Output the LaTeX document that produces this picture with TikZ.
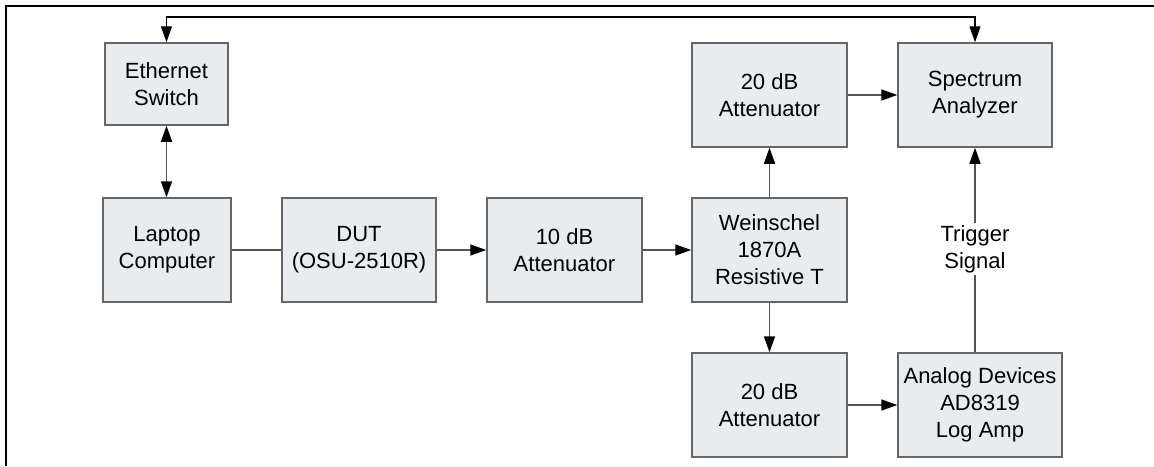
\documentclass[tikz,border=0pt]{standalone}
\usepackage{fontspec}
\setmainfont{Liberation Sans}
\usetikzlibrary{arrows.meta}
\definecolor{boxfill}{HTML}{E9ECEF}
\definecolor{boxline}{HTML}{666666}
\definecolor{conn}{HTML}{555555}
\begin{document}
\begin{tikzpicture}[x=1pt,y=-1pt,
  blk/.style={draw=boxline,fill=boxfill,line width=1.5pt,inner sep=0pt,align=center,
    font=\fontsize{22}{27}\selectfont},
  arr/.style={draw=conn,line width=1.5pt,-{Triangle[length=16pt,width=11pt,color=black]}},
  darr/.style={draw=conn,line width=1.5pt,{Triangle[length=16pt,width=11pt,color=black]}-{Triangle[length=16pt,width=11pt,color=black]}},
  plain/.style={draw=conn,line width=1.5pt},
  lbl/.style={fill=white,inner sep=2pt,align=center,font=\fontsize{22}{27}\selectfont}]
\useasboundingbox (0,0) rectangle (1154,466);
\fill[white] (0,0) rectangle (1154,466);
\draw[line width=2pt,black] (6,466) -- (6,6) -- (1154,6);

\node[blk,minimum width=123pt,minimum height=82pt] (eth) at (166.5,84) {Ethernet\\Switch};
\node[blk,minimum width=128pt,minimum height=104pt] (lap) at (167,250) {Laptop\\Computer};
\node[blk,minimum width=154pt,minimum height=104pt] (dut) at (359,250) {DUT\\(OSU-2510R)};
\node[blk,minimum width=155pt,minimum height=104pt] (att10) at (564.5,250) {10 dB\\Attenuator};
\node[blk,minimum width=155pt,minimum height=104pt] (wein) at (769.5,250) {Weinschel\\1870A\\Resistive T};
\node[blk,minimum width=155pt,minimum height=104pt] (att20a) at (769.5,95) {20 dB\\Attenuator};
\node[blk,minimum width=154pt,minimum height=104pt] (spec) at (975,95) {Spectrum\\Analyzer};
\node[blk,minimum width=155pt,minimum height=104pt] (att20b) at (769.5,405) {20 dB\\Attenuator};
\node[blk,minimum width=164pt,minimum height=104pt] (ad) at (980,405) {Analog Devices\\AD8319\\Log Amp};

\coordinate (c1) at (166.5,17);
\coordinate (c2) at (975,17);
\draw[line width=1.3pt,black,{Triangle[length=16pt,width=11pt]}-{Triangle[length=16pt,width=11pt]}]
  (eth.north) -- (c1) -- (c2) -- (spec.north);

\draw[darr] (eth.south) -- (eth.south |- lap.north);
\draw[plain] (lap.east) -- (dut.west);
\draw[arr] (dut.east) -- (att10.west);
\draw[arr] (att10.east) -- (wein.west);
\draw[arr] (wein.north) -- (att20a.south);
\draw[arr] (wein.south) -- (att20b.north);
\draw[arr] (att20a.east) -- (spec.west);
\draw[arr] (att20b.east) -- (ad.west);
\coordinate (adtop) at (spec.south |- ad.north);
\draw[arr] (adtop) -- (spec.south);
\node[lbl] (trig) at (975,249) {Trigger\\Signal};
\end{tikzpicture}
\end{document}
